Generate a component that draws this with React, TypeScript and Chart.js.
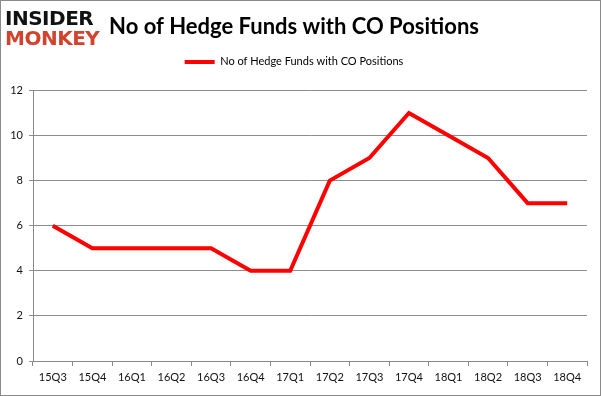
import React, { useEffect, useRef } from "react";
import { Chart, registerables } from "chart.js";

Chart.register(...registerables);

const categories = ["15Q3", "15Q4", "16Q1", "16Q2", "16Q3", "16Q4", "17Q1", "17Q2", "17Q3", "17Q4", "18Q1", "18Q2", "18Q3", "18Q4"];
const hedgeFunds = [6, 5, 5, 5, 5, 4, 4, 8, 9, 11, 10, 9, 7, 7];
const seriesLabel = "No of Hedge Funds with CO Positions";
const titleText = "No of Hedge Funds with CO Positions";

const FONT = "Lato, 'Open Sans', 'DejaVu Sans', sans-serif";

const legendMargin = {
  id: "legendMargin",
  beforeInit(chart: any) {
    const orig = chart.legend.fit;
    chart.legend.fit = function () {
      orig.bind(chart.legend)();
      this.height += 13;
    };
  },
};

export default function App() {
  const ref = useRef<HTMLCanvasElement>(null);
  useEffect(() => {
    if (!ref.current) return;
    const chart = new Chart(ref.current, {
      type: "line",
      data: {
        labels: categories,
        datasets: [
          {
            label: seriesLabel,
            data: hedgeFunds,
            borderColor: "#ff0000",
            backgroundColor: "#ff0000",
            borderWidth: 4,
            pointRadius: 0,
            tension: 0,
            borderJoinStyle: "miter",
          },
        ],
      },
      plugins: [legendMargin],
      options: {
        animation: false,
        responsive: false,
        maintainAspectRatio: false,
        layout: { padding: { left: 0, right: 13, top: 0, bottom: 0 } },
        plugins: {
          title: {
            display: true,
            text: titleText,
            color: "#000",
            font: { family: FONT, size: 22, weight: "bold" },
            padding: { top: 13, bottom: 6 },
          },
          legend: {
            display: true,
            position: "top",
            labels: {
              color: "#111",
              font: { family: FONT, size: 11 },
              boxWidth: 30,
              boxHeight: 4,
              padding: 10,
              generateLabels: (c: any) => [
                {
                  text: seriesLabel,
                  fillStyle: "#ff0000",
                  strokeStyle: "#ff0000",
                  lineWidth: 0,
                  datasetIndex: 0,
                  hidden: false,
                },
              ],
            },
          },
          tooltip: { enabled: false },
        },
        scales: {
          x: {
            offset: true,
            grid: {
              display: true,
              offset: true,
              drawOnChartArea: false,
              drawTicks: true,
              tickLength: 5,
              color: "#888",
            },
            border: { display: true, color: "#888", width: 1 },
            ticks: { color: "#111", font: { family: FONT, size: 11 }, padding: 5, maxRotation: 0, autoSkip: false },
            afterFit: (s: any) => {
              s.height = 34;
            },
          },
          y: {
            min: 0,
            max: 12,
            ticks: { stepSize: 2, color: "#111", font: { family: FONT, size: 11 }, padding: 6 },
            grid: { color: "#8c8c8c", tickLength: 4, drawTicks: true },
            border: { display: true, color: "#888", width: 1 },
            afterFit: (s: any) => {
              s.width = 32;
            },
          },
        },
      },
    });
    return () => chart.destroy();
  }, []);

  return (
    <div
      style={{
        position: "absolute",
        left: 0,
        top: 0,
        width: 601,
        height: 396,
        boxSizing: "border-box",
        border: "1px solid #8a8a8a",
        background: "#fff",
      }}
    >
      <canvas ref={ref} width={599} height={394} style={{ display: "block" }} />
      <div
        style={{
          position: "absolute",
          left: 4,
          top: 7,
          fontFamily: "'DejaVu Sans', sans-serif",
          fontWeight: 900,
          fontSize: 20,
          lineHeight: "20px",
          letterSpacing: -0.5,
        }}
      >
        <div style={{ color: "#111" }}>INSIDER</div>
        <div style={{ color: "#d2432e" }}>MONKEY</div>
      </div>
    </div>
  );
}
